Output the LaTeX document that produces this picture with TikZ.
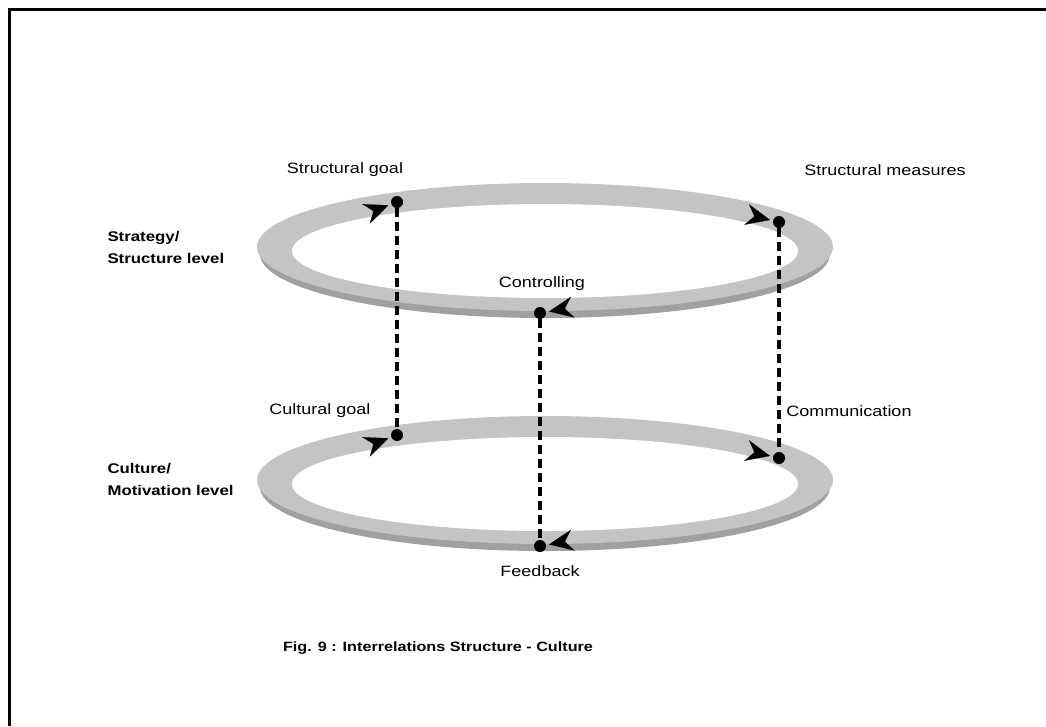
\documentclass[tikz,border=0pt]{standalone}
\usepackage{fontspec}
\setmainfont{Liberation Sans}[FakeStretch=1.2]
\usetikzlibrary{arrows.meta,calc}
\definecolor{ringlight}{RGB}{196,196,196}
\definecolor{ringdark}{RGB}{160,160,160}
\begin{document}
\begin{tikzpicture}[x=1pt,y=-1pt,
        dot/.style={circle, fill=black, inner sep=0pt, minimum size=12pt},
        lbl/.style={font=\fontsize{15}{18}\selectfont},
        levellbl/.style={font=\bfseries\fontsize{14}{22}\selectfont, align=left, anchor=west},
        link/.style={line width=3.2pt, dash pattern=on 9pt off 5pt},
        flow/.style={line width=0.1pt, -{Stealth[length=24pt, width=21pt, inset=8pt]}, shorten >=3pt}]
        \useasboundingbox (0,0) rectangle (1046,726);
        \draw[line width=3pt] (1046,9) -- (9,9) -- (9,726);

        % the two rings
        \foreach \cy in {250,483} {
            \fill[ringdark] (545,\cy+4) ellipse [x radius=285, y radius=64];
            \fill[ringlight] (545,\cy-3) ellipse [x radius=288, y radius=64];
            \fill[white] (545,\cy+1) ellipse [x radius=253, y radius=47];
        }

        \node[dot] (sg) at (397,202) {};
        \node[dot] (sm) at (779,222) {};
        \node[dot] (ctl) at (540,313) {};
        \node[dot] (cg) at (397,435) {};
        \node[dot] (com) at (779,458) {};
        \node[dot] (fb) at (540,546) {};

        \draw[link] (sg) -- (cg);
        \draw[link] (sm) -- (com);
        \draw[link] (ctl) -- (fb);

        \draw[flow] ($(sg)+(159:27)$) -- (sg);
        \draw[flow] ($(sm)+(193:27)$) -- (sm);
        \draw[flow] ($(ctl)+(350:27)$) -- (ctl);
        \draw[flow] ($(cg)+(159:27)$) -- (cg);
        \draw[flow] ($(com)+(193:27)$) -- (com);
        \draw[flow] ($(fb)+(350:27)$) -- (fb);

        \node[lbl] (sglbl) at (345,170) {Structural goal};
        \node[lbl] (smlbl) at (885,170) {Structural measures};
        \node[lbl] (ctllbl) at (542,284) {Controlling};
        \node[lbl] (cglbl) at (320,411) {Cultural goal};
        \node[lbl] (comlbl) at (849,411) {Communication};
        \node[lbl] (fblbl) at (540,571) {Feedback};

        \node[levellbl] (stl) at (104,247) {Strategy/\\Structure level};
        \node[levellbl] (cul) at (104,479) {Culture/\\Motivation level};

        \node[font=\bfseries\fontsize{13.5}{16}\selectfont] (cap) at (438,648) {Fig. 9 : Interrelations Structure - Culture};
\end{tikzpicture}
\end{document}
